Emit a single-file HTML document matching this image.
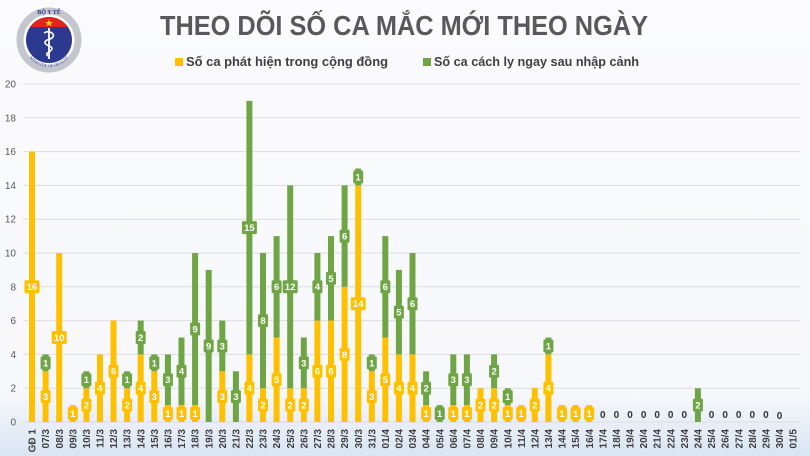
<!DOCTYPE html>
<html><head><meta charset="utf-8">
<style>
html,body{margin:0;padding:0;}
body{width:810px;height:456px;overflow:hidden;}
svg{display:block;}
.y{fill:#FFC000}
.g{fill:#6FA544}
.t{font-family:"Liberation Sans",sans-serif;font-weight:bold;font-size:9.5px;fill:#fff;text-anchor:middle}
.ax{font-family:"Liberation Sans",sans-serif;font-size:10px;fill:#595959;text-anchor:end}
.xl{font-family:"Liberation Sans",sans-serif;font-weight:bold;font-size:10px;fill:#404040;text-anchor:end}
.z{font-family:"Liberation Sans",sans-serif;font-weight:bold;font-size:10px;fill:#333;text-anchor:middle}
.gl{stroke:#dcdde2;stroke-width:1}
</style></head>
<body>
<svg width="810" height="456" viewBox="0 0 810 456" xmlns="http://www.w3.org/2000/svg">
<defs>
<linearGradient id="bg" x1="0" y1="0" x2="0" y2="1">
<stop offset="0" stop-color="#fbfbfd"/>
<stop offset="0.86" stop-color="#f7f8fb"/>
<stop offset="1" stop-color="#d9e5f3"/>
</linearGradient>
<clipPath id="cc"><circle cx="49" cy="40" r="23"/></clipPath>
<path id="arcb" d="M24,42 A25,25 0 0 0 74,42"/>
</defs>
<rect width="810" height="456" fill="url(#bg)"/>

<!-- logo -->
<g>
<circle cx="49" cy="40" r="29" fill="none" stroke="#c3c6cc" stroke-width="7"/>
<circle cx="49" cy="40" r="24.5" fill="#fff"/>
<circle cx="49" cy="40" r="23" fill="#2b3a8f"/>
<rect x="24" y="17" width="50" height="10" fill="#e2231a" clip-path="url(#cc)"/>
<polygon points="49,19 50,22 53,22 50.5,23.8 51.5,26.5 49,24.8 46.5,26.5 47.5,23.8 45,22 48,22" fill="#ffd200"/>
<line x1="49" y1="28" x2="49" y2="59" stroke="#fff" stroke-width="1.8"/>
<path d="M44,33 Q49,30 53,34 Q55,38 47,40 Q42,43 49,46 Q55,48 49,52 Q45,54 48,56" fill="none" stroke="#fff" stroke-width="1.6"/>
<text x="49" y="14" font-family="Liberation Serif,serif" font-size="6" font-weight="bold" fill="#2b3a8f" text-anchor="middle">BỘ Y TẾ</text>
<text font-family="Liberation Serif,serif" font-size="4.2" fill="#2b3a8f"><textPath href="#arcb" startOffset="50%" text-anchor="middle">MINISTRY OF HEALTH</textPath></text>
</g>

<!-- title -->
<text x="160" y="35" font-family="Liberation Sans,sans-serif" font-weight="bold" font-size="28" fill="#595959" textLength="488" lengthAdjust="spacingAndGlyphs">THEO DÕI SỐ CA MẮC MỚI THEO NGÀY</text>

<!-- legend -->
<rect x="175" y="58" width="8" height="8" class="y"/>
<text x="186" y="66" font-family="Liberation Sans,sans-serif" font-weight="bold" font-size="13" fill="#404040" textLength="202" lengthAdjust="spacingAndGlyphs">Số ca phát hiện trong cộng đồng</text>
<rect x="423" y="58" width="8" height="8" class="g"/>
<text x="434" y="66" font-family="Liberation Sans,sans-serif" font-weight="bold" font-size="13" fill="#404040" textLength="205" lengthAdjust="spacingAndGlyphs">Số ca cách ly ngay sau nhập cảnh</text>

<!-- gridlines -->
<g class="gl">
<line x1="23" y1="84" x2="800" y2="84"/>
<line x1="23" y1="117.8" x2="800" y2="117.8"/>
<line x1="23" y1="151.6" x2="800" y2="151.6"/>
<line x1="23" y1="185.4" x2="800" y2="185.4"/>
<line x1="23" y1="219.2" x2="800" y2="219.2"/>
<line x1="23" y1="253" x2="800" y2="253"/>
<line x1="23" y1="286.8" x2="800" y2="286.8"/>
<line x1="23" y1="320.6" x2="800" y2="320.6"/>
<line x1="23" y1="354.4" x2="800" y2="354.4"/>
<line x1="23" y1="388.2" x2="800" y2="388.2"/>
<line x1="23" y1="422" x2="800" y2="422"/>
</g>
<g class="ax">
<text x="16" y="87.5">20</text>
<text x="16" y="121.3">18</text>
<text x="16" y="155.1">16</text>
<text x="16" y="188.9">14</text>
<text x="16" y="222.7">12</text>
<text x="16" y="256.5">10</text>
<text x="16" y="290.3">8</text>
<text x="16" y="324.1">6</text>
<text x="16" y="357.9">4</text>
<text x="16" y="391.7">2</text>
<text x="16" y="425.5">0</text>
</g>

<!-- bars -->
<g transform="translate(32,0)"><rect class="y" x="-3" y="151.6" width="6" height="270.4"/><rect class="y" x="-7.5" y="280.3" width="15" height="13" rx="1.5"/><text class="t" y="290.2">16</text></g>
<g transform="translate(45.6,0)"><rect class="y" x="-3" y="371.3" width="6" height="50.7"/><rect class="g" x="-3" y="354.4" width="6" height="16.9"/><rect class="y" x="-5" y="390.15" width="10" height="13" rx="1.5"/><text class="t" y="400.05">3</text><rect class="g" x="-5" y="356.35" width="10" height="13" rx="1.5"/><text class="t" y="366.25">1</text></g>
<g transform="translate(59.2,0)"><rect class="y" x="-3" y="253" width="6" height="169"/><rect class="y" x="-7.5" y="331" width="15" height="13" rx="1.5"/><text class="t" y="340.9">10</text></g>
<g transform="translate(72.8,0)"><rect class="y" x="-3" y="405.1" width="6" height="16.9"/><rect class="y" x="-5" y="407.05" width="10" height="13" rx="1.5"/><text class="t" y="416.95">1</text></g>
<g transform="translate(86.4,0)"><rect class="y" x="-3" y="388.2" width="6" height="33.8"/><rect class="g" x="-3" y="371.3" width="6" height="16.9"/><rect class="y" x="-5" y="398.6" width="10" height="13" rx="1.5"/><text class="t" y="408.5">2</text><rect class="g" x="-5" y="373.25" width="10" height="13" rx="1.5"/><text class="t" y="383.15">1</text></g>
<g transform="translate(99.95,0)"><rect class="y" x="-3" y="354.4" width="6" height="67.6"/><rect class="y" x="-5" y="381.7" width="10" height="13" rx="1.5"/><text class="t" y="391.6">4</text></g>
<g transform="translate(113.5,0)"><rect class="y" x="-3" y="320.6" width="6" height="101.4"/><rect class="y" x="-5" y="364.8" width="10" height="13" rx="1.5"/><text class="t" y="374.7">6</text></g>
<g transform="translate(127.1,0)"><rect class="y" x="-3" y="388.2" width="6" height="33.8"/><rect class="g" x="-3" y="371.3" width="6" height="16.9"/><rect class="y" x="-5" y="398.6" width="10" height="13" rx="1.5"/><text class="t" y="408.5">2</text><rect class="g" x="-5" y="373.25" width="10" height="13" rx="1.5"/><text class="t" y="383.15">1</text></g>
<g transform="translate(140.7,0)"><rect class="y" x="-3" y="354.4" width="6" height="67.6"/><rect class="g" x="-3" y="320.6" width="6" height="33.8"/><rect class="y" x="-5" y="381.7" width="10" height="13" rx="1.5"/><text class="t" y="391.6">4</text><rect class="g" x="-5" y="331" width="10" height="13" rx="1.5"/><text class="t" y="340.9">2</text></g>
<g transform="translate(154.3,0)"><rect class="y" x="-3" y="371.3" width="6" height="50.7"/><rect class="g" x="-3" y="354.4" width="6" height="16.9"/><rect class="y" x="-5" y="390.15" width="10" height="13" rx="1.5"/><text class="t" y="400.05">3</text><rect class="g" x="-5" y="356.35" width="10" height="13" rx="1.5"/><text class="t" y="366.25">1</text></g>
<g transform="translate(167.9,0)"><rect class="y" x="-3" y="405.1" width="6" height="16.9"/><rect class="g" x="-3" y="354.4" width="6" height="50.7"/><rect class="y" x="-5" y="407.05" width="10" height="13" rx="1.5"/><text class="t" y="416.95">1</text><rect class="g" x="-5" y="373.25" width="10" height="13" rx="1.5"/><text class="t" y="383.15">3</text></g>
<g transform="translate(181.5,0)"><rect class="y" x="-3" y="405.1" width="6" height="16.9"/><rect class="g" x="-3" y="337.5" width="6" height="67.6"/><rect class="y" x="-5" y="407.05" width="10" height="13" rx="1.5"/><text class="t" y="416.95">1</text><rect class="g" x="-5" y="364.8" width="10" height="13" rx="1.5"/><text class="t" y="374.7">4</text></g>
<g transform="translate(195.1,0)"><rect class="y" x="-3" y="405.1" width="6" height="16.9"/><rect class="g" x="-3" y="253" width="6" height="152.1"/><rect class="y" x="-5" y="407.05" width="10" height="13" rx="1.5"/><text class="t" y="416.95">1</text><rect class="g" x="-5" y="322.55" width="10" height="13" rx="1.5"/><text class="t" y="332.45">9</text></g>
<g transform="translate(208.7,0)"><rect class="g" x="-3" y="269.9" width="6" height="152.1"/><rect class="g" x="-5" y="339.45" width="10" height="13" rx="1.5"/><text class="t" y="349.35">9</text></g>
<g transform="translate(222.3,0)"><rect class="y" x="-3" y="371.3" width="6" height="50.7"/><rect class="g" x="-3" y="320.6" width="6" height="50.7"/><rect class="y" x="-5" y="390.15" width="10" height="13" rx="1.5"/><text class="t" y="400.05">3</text><rect class="g" x="-5" y="339.45" width="10" height="13" rx="1.5"/><text class="t" y="349.35">3</text></g>
<g transform="translate(235.9,0)"><rect class="g" x="-3" y="371.3" width="6" height="50.7"/><rect class="g" x="-5" y="390.15" width="10" height="13" rx="1.5"/><text class="t" y="400.05">3</text></g>
<g transform="translate(249.4,0)"><rect class="y" x="-3" y="354.4" width="6" height="67.6"/><rect class="g" x="-3" y="100.9" width="6" height="253.5"/><rect class="y" x="-5" y="381.7" width="10" height="13" rx="1.5"/><text class="t" y="391.6">4</text><rect class="g" x="-7.5" y="221.15" width="15" height="13" rx="1.5"/><text class="t" y="231.05">15</text></g>
<g transform="translate(263,0)"><rect class="y" x="-3" y="388.2" width="6" height="33.8"/><rect class="g" x="-3" y="253" width="6" height="135.2"/><rect class="y" x="-5" y="398.6" width="10" height="13" rx="1.5"/><text class="t" y="408.5">2</text><rect class="g" x="-5" y="314.1" width="10" height="13" rx="1.5"/><text class="t" y="324">8</text></g>
<g transform="translate(276.6,0)"><rect class="y" x="-3" y="337.5" width="6" height="84.5"/><rect class="g" x="-3" y="236.1" width="6" height="101.4"/><rect class="y" x="-5" y="373.25" width="10" height="13" rx="1.5"/><text class="t" y="383.15">5</text><rect class="g" x="-5" y="280.3" width="10" height="13" rx="1.5"/><text class="t" y="290.2">6</text></g>
<g transform="translate(290.2,0)"><rect class="y" x="-3" y="388.2" width="6" height="33.8"/><rect class="g" x="-3" y="185.4" width="6" height="202.8"/><rect class="y" x="-5" y="398.6" width="10" height="13" rx="1.5"/><text class="t" y="408.5">2</text><rect class="g" x="-7.5" y="280.3" width="15" height="13" rx="1.5"/><text class="t" y="290.2">12</text></g>
<g transform="translate(303.8,0)"><rect class="y" x="-3" y="388.2" width="6" height="33.8"/><rect class="g" x="-3" y="337.5" width="6" height="50.7"/><rect class="y" x="-5" y="398.6" width="10" height="13" rx="1.5"/><text class="t" y="408.5">2</text><rect class="g" x="-5" y="356.35" width="10" height="13" rx="1.5"/><text class="t" y="366.25">3</text></g>
<g transform="translate(317.4,0)"><rect class="y" x="-3" y="320.6" width="6" height="101.4"/><rect class="g" x="-3" y="253" width="6" height="67.6"/><rect class="y" x="-5" y="364.8" width="10" height="13" rx="1.5"/><text class="t" y="374.7">6</text><rect class="g" x="-5" y="280.3" width="10" height="13" rx="1.5"/><text class="t" y="290.2">4</text></g>
<g transform="translate(331,0)"><rect class="y" x="-3" y="320.6" width="6" height="101.4"/><rect class="g" x="-3" y="236.1" width="6" height="84.5"/><rect class="y" x="-5" y="364.8" width="10" height="13" rx="1.5"/><text class="t" y="374.7">6</text><rect class="g" x="-5" y="271.85" width="10" height="13" rx="1.5"/><text class="t" y="281.75">5</text></g>
<g transform="translate(344.6,0)"><rect class="y" x="-3" y="286.8" width="6" height="135.2"/><rect class="g" x="-3" y="185.4" width="6" height="101.4"/><rect class="y" x="-5" y="347.9" width="10" height="13" rx="1.5"/><text class="t" y="357.8">8</text><rect class="g" x="-5" y="229.6" width="10" height="13" rx="1.5"/><text class="t" y="239.5">6</text></g>
<g transform="translate(358.2,0)"><rect class="y" x="-3" y="185.4" width="6" height="236.6"/><rect class="g" x="-3" y="168.5" width="6" height="16.9"/><rect class="y" x="-7.5" y="297.2" width="15" height="13" rx="1.5"/><text class="t" y="307.1">14</text><rect class="g" x="-5" y="170.55" width="10" height="13" rx="1.5"/><text class="t" y="180.45">1</text></g>
<g transform="translate(371.8,0)"><rect class="y" x="-3" y="371.3" width="6" height="50.7"/><rect class="g" x="-3" y="354.4" width="6" height="16.9"/><rect class="y" x="-5" y="390.15" width="10" height="13" rx="1.5"/><text class="t" y="400.05">3</text><rect class="g" x="-5" y="356.35" width="10" height="13" rx="1.5"/><text class="t" y="366.25">1</text></g>
<g transform="translate(385.3,0)"><rect class="y" x="-3" y="337.5" width="6" height="84.5"/><rect class="g" x="-3" y="236.1" width="6" height="101.4"/><rect class="y" x="-5" y="373.25" width="10" height="13" rx="1.5"/><text class="t" y="383.15">5</text><rect class="g" x="-5" y="280.3" width="10" height="13" rx="1.5"/><text class="t" y="290.2">6</text></g>
<g transform="translate(398.9,0)"><rect class="y" x="-3" y="354.4" width="6" height="67.6"/><rect class="g" x="-3" y="269.9" width="6" height="84.5"/><rect class="y" x="-5" y="381.7" width="10" height="13" rx="1.5"/><text class="t" y="391.6">4</text><rect class="g" x="-5" y="305.65" width="10" height="13" rx="1.5"/><text class="t" y="315.55">5</text></g>
<g transform="translate(412.5,0)"><rect class="y" x="-3" y="354.4" width="6" height="67.6"/><rect class="g" x="-3" y="253" width="6" height="101.4"/><rect class="y" x="-5" y="381.7" width="10" height="13" rx="1.5"/><text class="t" y="391.6">4</text><rect class="g" x="-5" y="297.2" width="10" height="13" rx="1.5"/><text class="t" y="307.1">6</text></g>
<g transform="translate(426.1,0)"><rect class="y" x="-3" y="405.1" width="6" height="16.9"/><rect class="g" x="-3" y="371.3" width="6" height="33.8"/><rect class="y" x="-5" y="407.05" width="10" height="13" rx="1.5"/><text class="t" y="416.95">1</text><rect class="g" x="-5" y="381.7" width="10" height="13" rx="1.5"/><text class="t" y="391.6">2</text></g>
<g transform="translate(439.7,0)"><rect class="g" x="-3" y="405.1" width="6" height="16.9"/><rect class="g" x="-5" y="407.05" width="10" height="13" rx="1.5"/><text class="t" y="416.95">1</text></g>
<g transform="translate(453.3,0)"><rect class="y" x="-3" y="405.1" width="6" height="16.9"/><rect class="g" x="-3" y="354.4" width="6" height="50.7"/><rect class="y" x="-5" y="407.05" width="10" height="13" rx="1.5"/><text class="t" y="416.95">1</text><rect class="g" x="-5" y="373.25" width="10" height="13" rx="1.5"/><text class="t" y="383.15">3</text></g>
<g transform="translate(466.9,0)"><rect class="y" x="-3" y="405.1" width="6" height="16.9"/><rect class="g" x="-3" y="354.4" width="6" height="50.7"/><rect class="y" x="-5" y="407.05" width="10" height="13" rx="1.5"/><text class="t" y="416.95">1</text><rect class="g" x="-5" y="373.25" width="10" height="13" rx="1.5"/><text class="t" y="383.15">3</text></g>
<g transform="translate(480.5,0)"><rect class="y" x="-3" y="388.2" width="6" height="33.8"/><rect class="y" x="-5" y="398.6" width="10" height="13" rx="1.5"/><text class="t" y="408.5">2</text></g>
<g transform="translate(494.1,0)"><rect class="y" x="-3" y="388.2" width="6" height="33.8"/><rect class="g" x="-3" y="354.4" width="6" height="33.8"/><rect class="y" x="-5" y="398.6" width="10" height="13" rx="1.5"/><text class="t" y="408.5">2</text><rect class="g" x="-5" y="364.8" width="10" height="13" rx="1.5"/><text class="t" y="374.7">2</text></g>
<g transform="translate(507.7,0)"><rect class="y" x="-3" y="405.1" width="6" height="16.9"/><rect class="g" x="-3" y="388.2" width="6" height="16.9"/><rect class="y" x="-5" y="407.05" width="10" height="13" rx="1.5"/><text class="t" y="416.95">1</text><rect class="g" x="-5" y="390.15" width="10" height="13" rx="1.5"/><text class="t" y="400.05">1</text></g>
<g transform="translate(521.2,0)"><rect class="y" x="-3" y="405.1" width="6" height="16.9"/><rect class="y" x="-5" y="407.05" width="10" height="13" rx="1.5"/><text class="t" y="416.95">1</text></g>
<g transform="translate(534.8,0)"><rect class="y" x="-3" y="388.2" width="6" height="33.8"/><rect class="y" x="-5" y="398.6" width="10" height="13" rx="1.5"/><text class="t" y="408.5">2</text></g>
<g transform="translate(548.4,0)"><rect class="y" x="-3" y="354.4" width="6" height="67.6"/><rect class="g" x="-3" y="337.5" width="6" height="16.9"/><rect class="y" x="-5" y="381.7" width="10" height="13" rx="1.5"/><text class="t" y="391.6">4</text><rect class="g" x="-5" y="339.45" width="10" height="13" rx="1.5"/><text class="t" y="349.35">1</text></g>
<g transform="translate(562,0)"><rect class="y" x="-3" y="405.1" width="6" height="16.9"/><rect class="y" x="-5" y="407.05" width="10" height="13" rx="1.5"/><text class="t" y="416.95">1</text></g>
<g transform="translate(575.6,0)"><rect class="y" x="-3" y="405.1" width="6" height="16.9"/><rect class="y" x="-5" y="407.05" width="10" height="13" rx="1.5"/><text class="t" y="416.95">1</text></g>
<g transform="translate(589.2,0)"><rect class="y" x="-3" y="405.1" width="6" height="16.9"/><rect class="y" x="-5" y="407.05" width="10" height="13" rx="1.5"/><text class="t" y="416.95">1</text></g>
<g transform="translate(697.9,0)"><rect class="g" x="-3" y="388.2" width="6" height="33.8"/><rect class="g" x="-5" y="398.6" width="10" height="13" rx="1.5"/><text class="t" y="408.5">2</text></g>

<!-- zero labels -->
<g class="z">
<text x="602.8" y="418">0</text>
<text x="616.4" y="418">0</text>
<text x="630" y="418">0</text>
<text x="643.6" y="418">0</text>
<text x="657.1" y="418">0</text>
<text x="670.7" y="418">0</text>
<text x="684.3" y="418">0</text>
<text x="711.5" y="418">0</text>
<text x="725.1" y="418">0</text>
<text x="738.7" y="418">0</text>
<text x="752.3" y="418">0</text>
<text x="765.9" y="418">0</text>
<text x="779.5" y="419">0</text>
</g>

<!-- x labels -->
<g class="xl">
<text transform="translate(35.6,429) rotate(-90)">GĐ 1</text>
<text transform="translate(49.2,429) rotate(-90)">07/3</text>
<text transform="translate(62.8,429) rotate(-90)">08/3</text>
<text transform="translate(76.4,429) rotate(-90)">09/3</text>
<text transform="translate(90,429) rotate(-90)">10/3</text>
<text transform="translate(103.55,429) rotate(-90)">11/3</text>
<text transform="translate(117.1,429) rotate(-90)">12/3</text>
<text transform="translate(130.7,429) rotate(-90)">13/3</text>
<text transform="translate(144.3,429) rotate(-90)">14/3</text>
<text transform="translate(157.9,429) rotate(-90)">15/3</text>
<text transform="translate(171.5,429) rotate(-90)">16/3</text>
<text transform="translate(185.1,429) rotate(-90)">17/3</text>
<text transform="translate(198.7,429) rotate(-90)">18/3</text>
<text transform="translate(212.3,429) rotate(-90)">19/3</text>
<text transform="translate(225.9,429) rotate(-90)">20/3</text>
<text transform="translate(239.5,429) rotate(-90)">21/3</text>
<text transform="translate(253,429) rotate(-90)">22/3</text>
<text transform="translate(266.6,429) rotate(-90)">23/3</text>
<text transform="translate(280.2,429) rotate(-90)">24/3</text>
<text transform="translate(293.8,429) rotate(-90)">25/3</text>
<text transform="translate(307.4,429) rotate(-90)">26/3</text>
<text transform="translate(321,429) rotate(-90)">27/3</text>
<text transform="translate(334.6,429) rotate(-90)">28/3</text>
<text transform="translate(348.2,429) rotate(-90)">29/3</text>
<text transform="translate(361.8,429) rotate(-90)">30/3</text>
<text transform="translate(375.4,429) rotate(-90)">31/3</text>
<text transform="translate(388.9,429) rotate(-90)">01/4</text>
<text transform="translate(402.5,429) rotate(-90)">02/4</text>
<text transform="translate(416.1,429) rotate(-90)">03/4</text>
<text transform="translate(429.7,429) rotate(-90)">04/4</text>
<text transform="translate(443.3,429) rotate(-90)">05/4</text>
<text transform="translate(456.9,429) rotate(-90)">06/4</text>
<text transform="translate(470.5,429) rotate(-90)">07/4</text>
<text transform="translate(484.1,429) rotate(-90)">08/4</text>
<text transform="translate(497.7,429) rotate(-90)">09/4</text>
<text transform="translate(511.3,429) rotate(-90)">10/4</text>
<text transform="translate(524.8,429) rotate(-90)">11/4</text>
<text transform="translate(538.4,429) rotate(-90)">12/4</text>
<text transform="translate(552,429) rotate(-90)">13/4</text>
<text transform="translate(565.6,429) rotate(-90)">14/4</text>
<text transform="translate(579.2,429) rotate(-90)">15/4</text>
<text transform="translate(592.8,429) rotate(-90)">16/4</text>
<text transform="translate(606.4,429) rotate(-90)">17/4</text>
<text transform="translate(620,429) rotate(-90)">18/4</text>
<text transform="translate(633.6,429) rotate(-90)">19/4</text>
<text transform="translate(647.2,429) rotate(-90)">20/4</text>
<text transform="translate(660.7,429) rotate(-90)">21/4</text>
<text transform="translate(674.3,429) rotate(-90)">22/4</text>
<text transform="translate(687.9,429) rotate(-90)">23/4</text>
<text transform="translate(701.5,429) rotate(-90)">24/4</text>
<text transform="translate(715.1,429) rotate(-90)">25/4</text>
<text transform="translate(728.7,429) rotate(-90)">26/4</text>
<text transform="translate(742.3,429) rotate(-90)">27/4</text>
<text transform="translate(755.9,429) rotate(-90)">28/4</text>
<text transform="translate(769.5,429) rotate(-90)">29/4</text>
<text transform="translate(783.1,429) rotate(-90)">30/4</text>
<text transform="translate(796.6,429) rotate(-90)">01/5</text>
</g>
</svg>
</body></html>
